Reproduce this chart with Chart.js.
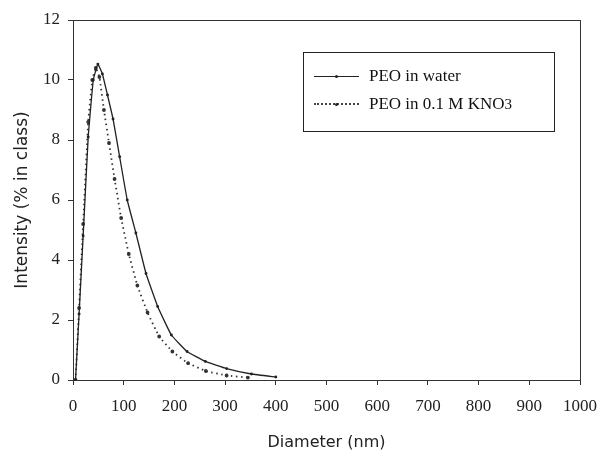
<!DOCTYPE html>
<html>
<head>
<meta charset="utf-8">
<script src="https://cdn.jsdelivr.net/npm/chart.js@4"></script>
<style>
  body { margin: 0; background: #fff; }
  #wrap { position: relative; width: 600px; height: 453px; overflow: hidden; }
  #legend {
    position: absolute; left: 303px; top: 52px; width: 250px; height: 78px;
    border: 1px solid #222; font-family: "Liberation Serif", serif; font-size: 17px; color: #111;
  }
  .item { position: absolute; left: 10px; height: 20px; display: flex; align-items: center; }
  .sample { width: 45px; height: 0; margin-right: 10px; position: relative; }
  .sample.solid { border-top: 1px solid #222; }
  .sample.dot { border-top: 2px dotted #444; }
  .sample::after { content: ""; position: absolute; left: 21px; top: -2px; width: 3px; height: 3px; background: #222; border-radius: 50%; }
  sub { font-size: 15px; vertical-align: -4px; }
</style>
</head>
<body>
<div id="wrap">
  <canvas id="myChart" width="600" height="453"></canvas>
  <div id="legend">
    <div class="item" style="top:13px"><span class="sample solid"></span>PEO in water</div>
    <div class="item" style="top:41px"><span class="sample dot"></span>PEO in 0.1 M KNO<sub>3</sub></div>
  </div>
</div>
<script>
// diameter (nm) and intensity (% in class)
const waterDiam = [5, 12, 20, 30, 40, 49, 58, 68, 79, 92, 107, 124, 144, 167, 194, 225, 261, 303, 352, 400]
const waterInt  = [0, 2.2, 4.8, 8.1, 10.0, 10.53, 10.2, 9.5, 8.7, 7.44, 6.0, 4.9, 3.55, 2.45, 1.5, 0.95, 0.62, 0.38, 0.2, 0.1]
const knoDiam = [5, 12, 20, 30, 38, 45, 52, 61, 71, 82, 95, 110, 127, 147, 170, 196, 227, 262, 303, 345]
const knoInt  = [0, 2.4, 5.2, 8.6, 10.0, 10.4, 10.1, 9.0, 7.9, 6.7, 5.4, 4.2, 3.15, 2.25, 1.45, 0.95, 0.56, 0.3, 0.15, 0.08]

const xTicks = [0, 100, 200, 300, 400, 500, 600, 700, 800, 900, 1000]
const yTicks = [0, 2, 4, 6, 8, 10, 12]

function toPoints(xs, ys){
    return xs.map((x, i) => ({x, y: ys[i]}))
}

const serif = "'Liberation Serif', 'Times New Roman', serif"
const sans = "'DejaVu Sans', sans-serif"

// box around the plot area
const frame = {
    id: 'frame',
    afterDraw(chart){
        const {ctx, chartArea: a} = chart
        ctx.save()
        ctx.strokeStyle = '#333'
        ctx.lineWidth = 1
        ctx.strokeRect(a.left + 0.5, a.top + 0.5, a.right - a.left, a.bottom - a.top)
        ctx.restore()
    }
}

const ctx = document.getElementById('myChart')
new Chart(ctx, {
    type: 'scatter',
    data: {
        datasets: [{
            label: 'PEO in water',
            data: toPoints(waterDiam, waterInt),
            showLine: true,
            borderColor: '#222',
            backgroundColor: '#222',
            borderWidth: 1.3,
            pointRadius: 0.8,
            tension: 0.1
        }, {
            label: 'PEO in 0.1 M KNO3',
            data: toPoints(knoDiam, knoInt),
            showLine: true,
            borderColor: '#333',
            backgroundColor: '#222',
            borderWidth: 1.8,
            borderDash: [1.5, 3.5],
            pointRadius: 1,
            tension: 0.1
        }]
    },
    options: {
        responsive: false,
        animation: false,
        layout: { padding: { left: 0, right: 20, top: 20, bottom: 0 } },
        plugins: {
            legend: { display: false },
            tooltip: { enabled: false }
        },
        scales: {
            x: {
                type: 'linear',
                min: 0, max: 1000,
                afterBuildTicks: s => { s.ticks = xTicks.map(v => ({value: v})) },
                // the last label runs off the right edge, as in the original
                afterFit: s => { s.height = 73; s.paddingRight = 0 },
                grid: { drawOnChartArea: false, drawTicks: true, tickLength: 5, color: '#333' },
                border: { color: '#333', width: 1 },
                ticks: { color: '#222', font: { family: serif, size: 17 }, padding: 11, maxRotation: 0, callback: v => String(v) },
                title: { display: true, text: 'Diameter (nm)', color: '#222', font: { family: sans, size: 16 }, padding: { top: 0, bottom: 1 } }
            },
            y: {
                min: 0, max: 12,
                afterBuildTicks: s => { s.ticks = yTicks.map(v => ({value: v})) },
                afterFit: s => { s.width = 73 },
                grid: { drawOnChartArea: false, drawTicks: true, tickLength: 5, color: '#333' },
                border: { color: '#333', width: 1 },
                ticks: { color: '#222', font: { family: serif, size: 17 }, padding: 8, callback: v => String(v) },
                title: { display: true, text: 'Intensity (% in class)', color: '#222', font: { family: sans, size: 17 }, padding: { top: 12, bottom: 0 } }
            }
        }
    },
    plugins: [frame]
})
</script>
</body>
</html>
